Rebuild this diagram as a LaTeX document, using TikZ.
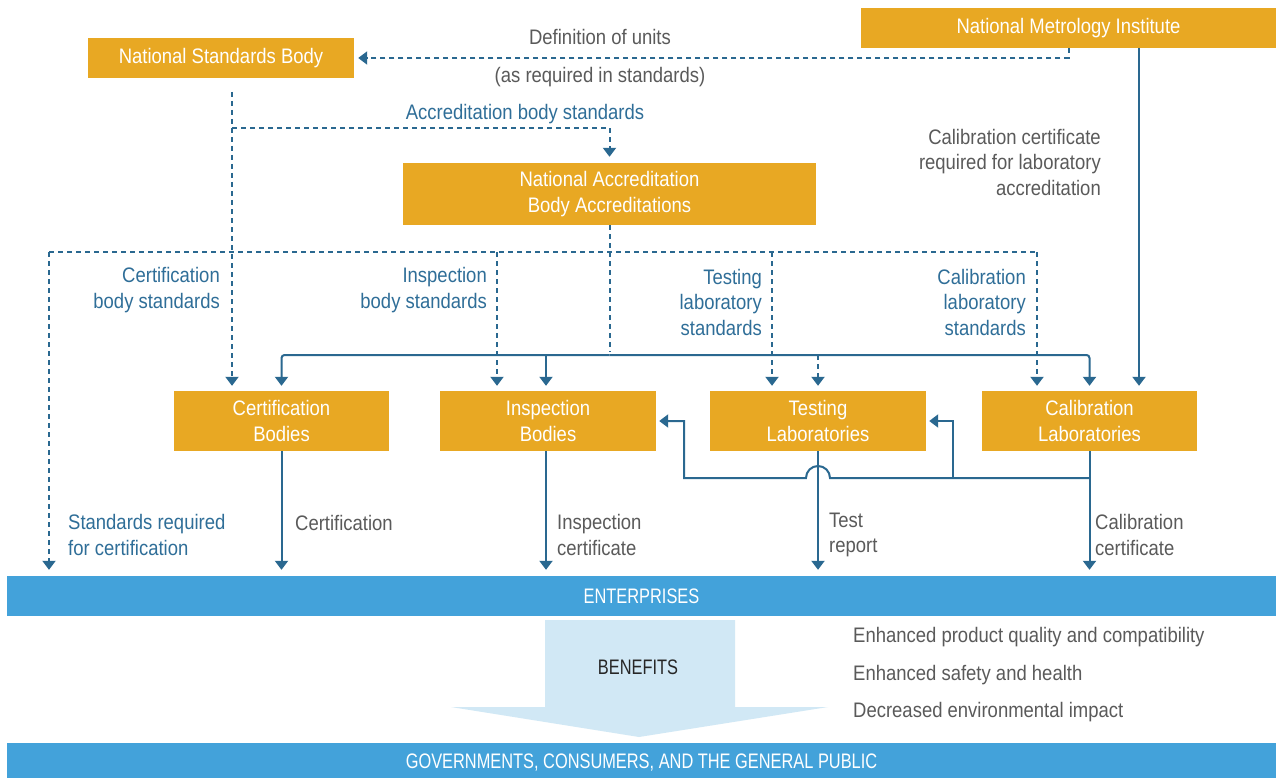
\documentclass[tikz,border=0pt]{standalone}
\usepackage{fontspec}
\setmainfont{Liberation Sans}[FakeStretch=0.88]
\newfontfamily\capsfont{Liberation Sans}[FakeStretch=0.78]
\usetikzlibrary{arrows.meta}
\definecolor{orng}{HTML}{E8A823}
\definecolor{lnblue}{HTML}{2A6890}
\definecolor{lblblue}{HTML}{2F6E98}
\definecolor{band}{HTML}{43A2DA}
\definecolor{benef}{HTML}{D1E8F5}
\definecolor{graytxt}{HTML}{5A5A5A}
\tikzset{
  box/.style={fill=orng, text=white, inner sep=0pt, align=center},
  ln/.style={draw=lnblue, line width=2pt},
  dsh/.style={draw=lnblue, line width=2pt, dash pattern=on 5pt off 4pt},
  tip/.style={-{Triangle[width=13pt,length=9pt]}},
  bluelbl/.style={text=lblblue, align=right, anchor=east, inner sep=0pt},
  graylbl/.style={text=graytxt, inner sep=0pt},
  bandstyle/.style={fill=band, text=white, inner sep=0pt, font=\fontsize{21}{25.5}\capsfont},
}
\begin{document}
\begin{tikzpicture}[x=1pt,y=-1pt, font=\fontsize{21}{25.5}\selectfont]
\useasboundingbox[fill=white] (0,0) rectangle (1276,778);

% boxes
\node[box, minimum width=266pt, minimum height=40pt] (nsb) at (221,58) {National Standards Body};
\node[box, minimum width=415pt, minimum height=40pt] (nmi) at (1068.5,28) {National Metrology Institute};
\node[box, minimum width=413pt, minimum height=62pt] (nab) at (609.5,194) {National Accreditation\\Body Accreditations};
\node[box, minimum width=215pt, minimum height=60pt] (cb) at (281.5,421) {Certification\\Bodies};
\node[box, minimum width=216pt, minimum height=60pt] (ib) at (548,421) {Inspection\\Bodies};
\node[box, minimum width=216pt, minimum height=60pt] (tl) at (818,421) {Testing\\Laboratories};
\node[box, minimum width=215pt, minimum height=60pt] (cl) at (1089.5,421) {Calibration\\Laboratories};

% bands
\node[bandstyle, minimum width=1269pt, minimum height=40pt] (ent) at (641.5,596) {ENTERPRISES};
\node[bandstyle, minimum width=1269pt, minimum height=40pt] (gov) at (641.5,763) {GOVERNMENTS, CONSUMERS, AND THE GENERAL PUBLIC};

% benefits arrow
\fill[benef] (545,620) -- (735,620) -- (735,707) -- (828,707) -- (639,737) -- (451,707) -- (545,707) -- cycle;
\node[text=black!85, inner sep=0pt, font=\fontsize{21}{25.5}\capsfont] (ben) at (638,667) {BENEFITS};
\node[graylbl, anchor=west] (b1) at (853,637) {Enhanced product quality and compatibility};
\node[graylbl, anchor=west] (b2txt) at (853,675) {Enhanced safety and health};
\node[graylbl, anchor=west] (b3) at (853,712) {Decreased environmental impact};

% top labels
\node[graylbl] (defu) at (600,37) {Definition of units};
\node[graylbl] (asreq) at (600,77) {(as required in standards)};
\node[text=lblblue, inner sep=0pt] (abs) at (525,114) {Accreditation body standards};
\node[graylbl, align=right, anchor=east] (calreq) at (1101,162) {Calibration certificate\\required for laboratory\\accreditation};

% blue standard labels
\node[bluelbl] (l1) at (220,290) {Certification\\body standards};
\node[bluelbl] (l2) at (487,290) {Inspection\\body standards};
\node[bluelbl] (l3) at (762,302) {Testing\\laboratory\\standards};
\node[bluelbl] (l4) at (1026,302) {Calibration\\laboratory\\standards};
\node[text=lblblue, align=left, anchor=west, inner sep=0pt] (l5) at (68,535) {Standards required\\for certification};

% output labels
\node[graylbl, anchor=west, align=left] (o1) at (295,523) {Certification};
\node[graylbl, anchor=west, align=left] (o2) at (557,535) {Inspection\\certificate};
\node[graylbl, anchor=west, align=left] (o3) at (829,535) {Test\\report};
\node[graylbl, anchor=west, align=left] (o4) at (1095,535) {Calibration\\certificate};

% coordinates
\coordinate (s1) at (232,92);
\coordinate (s2) at (232,128);
\coordinate (dA) at (49,252);
\coordinate (dB) at (497,252);
\coordinate (dC) at (772,252);
\coordinate (dD) at (1037,252);
\coordinate (bus) at (609.5,355);
\coordinate (b2) at (546,355);
\coordinate (m1) at (1139,48);
\coordinate (fb) at (1089.5,478);
\coordinate (fb2) at (953,478);

% definition of units
\draw[dsh, tip, shorten >=4pt] (nmi.south) |- (nsb.east);
% NSB down
\draw[dsh, tip, shorten >=5pt] (s1) -- (s1 |- cb.north);
\draw[dsh, tip, shorten >=6pt] (s2) -| (nab.north);
% NAB outputs
\draw[dsh] (dA) -- (dD);
\draw[dsh, shorten >=3pt] (nab.south) -- (bus);
\draw[dsh, tip, shorten >=6pt] (dA) -- (dA |- ent.north);
\draw[dsh, tip, shorten >=5pt] (dB) -- (dB |- ib.north);
\draw[dsh, tip, shorten >=5pt] (dC) -- (dC |- tl.north);
\draw[dsh, tip, shorten >=5pt] (dD) -- (dD |- cl.north);
% bus
\draw[ln, tip, rounded corners=3pt, shorten >=5pt] (bus) -| (cb.north);
\draw[ln, tip, rounded corners=3pt, shorten >=5pt] (bus) -| (cl.north);
\draw[ln, tip, shorten >=5pt] (b2) -- (b2 |- ib.north);
\draw[dsh, tip, shorten >=5pt] (tl.north |- bus) -- (tl.north);
% NMI
\draw[ln, tip, shorten >=5pt] (m1) -- (m1 |- cl.north);
% outputs to enterprises
\draw[ln, tip, shorten >=6pt] (cb.south) -- (cb.south |- ent.north);
\draw[ln, tip, shorten >=6pt] (b2 |- ib.south) -- (b2 |- ent.north);
\draw[ln, tip, shorten >=6pt] (tl.south) -- (tl.south |- ent.north);
\draw[ln, tip, shorten >=6pt] (cl.south) -- (cl.south |- ent.north);
% feedback
\draw[ln, tip, shorten >=3pt] (fb) -- (830,478) arc(0:-180:12) -- (684,478) |- (ib.east);
\draw[ln, tip, shorten >=3pt] (fb2) |- (tl.east);
\end{tikzpicture}
\end{document}
